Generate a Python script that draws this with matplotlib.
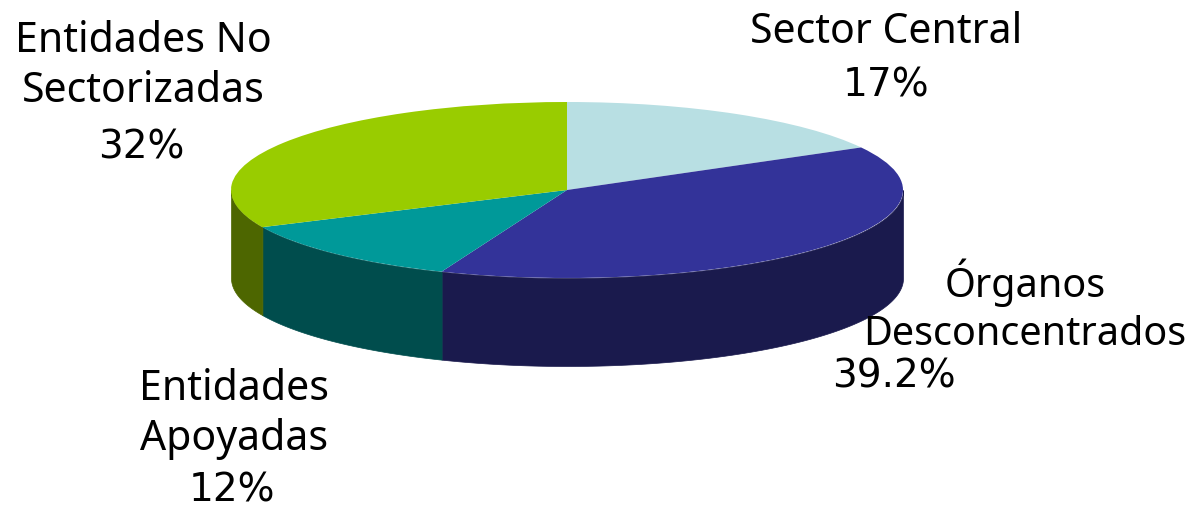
import numpy as np
import matplotlib.pyplot as plt

names = ["Sector Central", "Órganos\nDesconcentrados", "Entidades\nApoyadas", "Entidades No\nSectorizadas"]
shares = [17, 39.2, 12, 32]
share_labels = ["17%", "39.2%", "12%", "32%"]
top_colors = ["#B8DFE3", "#333399", "#009999", "#99CC00"]
side_colors = ["#5C7072", "#1A1A4D", "#004D4D", "#4D6600"]

W, H = 1191, 508
cx, cy = 567, 190
rx, ry = 336, 88
depth = 88

fig = plt.figure(figsize=(W / 100, H / 100), dpi=100)
ax = fig.add_axes([0, 0, 1, 1])

wedges, _ = ax.pie(shares, colors=top_colors, startangle=90, counterclock=False, radius=1)
ax.set_aspect("auto")
ax.set_xlim((0 - cx) / rx, (W - cx) / rx)
ax.set_ylim((cy - H) / ry, cy / ry)

# side wall of the pie, only the front half is visible
d = depth / ry
for w, c in zip(wedges, side_colors):
    a1 = np.radians(w.theta1)
    a2 = np.radians(w.theta2)
    t = np.linspace(a1, a2, 200)
    t = t[np.sin(t) <= 0]
    if len(t) == 0:
        continue
    x = np.cos(t)
    y = np.sin(t)
    ax.fill_between(x, y - d, y, color=c, lw=0.5, zorder=0.5)

def px(x, y):
    return (x - cx) / rx, (cy - y) / ry

txt = dict(ha="center", va="center", fontsize=29.5, family="Noto Sans", color="black", linespacing=1.22)
pct = dict(ha="center", va="center", fontsize=28, family="DejaVu Sans", color="black")

ax.text(*px(886, 32), names[0], **txt)
ax.text(*px(886, 85), share_labels[0], **pct)

# this one runs into the right edge at the common size
small = dict(txt, fontsize=28.5, linespacing=1.26)
ax.text(*px(1025, 307), names[1], **small)
ax.text(*px(894, 376), share_labels[1], **pct)

ax.text(*px(234, 414), names[2], **txt)
ax.text(*px(232, 491), share_labels[2], **pct)

ax.text(*px(143, 66), names[3], **txt)
ax.text(*px(141, 147), share_labels[3], **pct)

fig.savefig("out.png", dpi=100)
